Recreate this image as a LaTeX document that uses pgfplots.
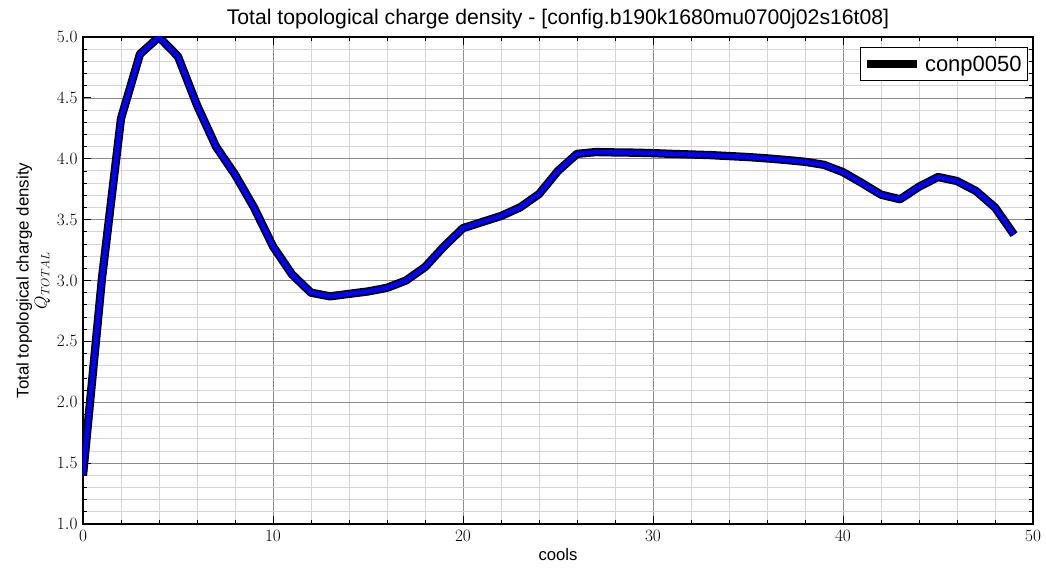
\documentclass[border=0pt]{standalone}
\usepackage{fontspec}
\setmainfont{Liberation Sans}
\usepackage{pgfplots}
\pgfplotsset{compat=1.18}
\usetikzlibrary{calc}

\pgfplotstableread{
x y
0 1.40
1 3.02
2 4.33
3 4.86
4 5.00
5 4.84
6 4.44
7 4.10
8 3.87
9 3.60
10 3.28
11 3.05
12 2.90
13 2.87
14 2.89
15 2.91
16 2.94
17 3.00
18 3.11
19 3.28
20 3.43
21 3.48
22 3.53
23 3.60
24 3.71
25 3.90
26 4.04
27 4.055
28 4.052
29 4.05
30 4.046
31 4.04
32 4.035
33 4.03
34 4.022
35 4.014
36 4.003
37 3.99
38 3.975
39 3.95
40 3.89
41 3.80
42 3.705
43 3.667
44 3.77
45 3.85
46 3.817
47 3.735
48 3.60
49 3.377
}\qdata

\begin{document}
\begin{tikzpicture}
\begin{axis}[
    scale only axis,
    width=950pt, height=487pt,
    xmin=0, xmax=50, ymin=1, ymax=5,
    xtick={0,10,...,50}, minor x tick num=4,
    ytick={1,1.5,...,5}, minor y tick num=4,
    tick align=inside, tick pos=both,
    major tick length=8pt, minor tick length=4pt,
    every tick/.style={black, line width=0.8pt},
    grid=both,
    major grid style={black!45, line width=0.6pt},
    minor grid style={black!17, line width=0.9pt},
    axis line style={black, line width=1.6pt},
    tick label style={font=\fontsize{16.7}{20}\selectfont},
    xticklabel style={yshift=-3pt},
    yticklabel style={xshift=-2pt, /pgf/number format/.cd, fixed, fixed zerofill, precision=1},
    title={Total topological charge density - [config.b190k1680mu0700j02s16t08]},
    title style={font=\fontsize{21.2}{24}\selectfont, yshift=-1pt},
    xlabel={cools},
    xlabel style={font=\fontsize{16.7}{20}\selectfont},
    ylabel={Total topological charge density\\$Q_{TOTAL}$},
    ylabel style={font=\fontsize{16.9}{18}\selectfont, align=center},
    legend style={at={(0.995,0.979)}, anchor=north east, draw=black,
        line width=1.2pt, font=\fontsize{22}{26}\selectfont,
        inner xsep=2pt, inner ysep=6pt,
        nodes={inner xsep=4pt, inner ysep=2pt}},
    legend cell align=left,
]
\addplot[black, line width=8.3pt, line join=round,
    legend image code/.code={
        \draw[black, line width=6pt] (6pt,0pt) -- (38pt,0pt);
        \path (0pt,0pt) -- (50pt,0pt);}]
    table[x=x, y=y] {\qdata};
\addlegendentry{conp0050}
\addplot[blue, line width=4.7pt, line join=round, forget plot]
    table[x=x, y=y] {\qdata};
\end{axis}
\pgfresetboundingbox
\path ($(current axis.south west)+(-83pt,-44pt)$) rectangle ($(current axis.north east)+(13pt,37pt)$);
\end{tikzpicture}
\end{document}
